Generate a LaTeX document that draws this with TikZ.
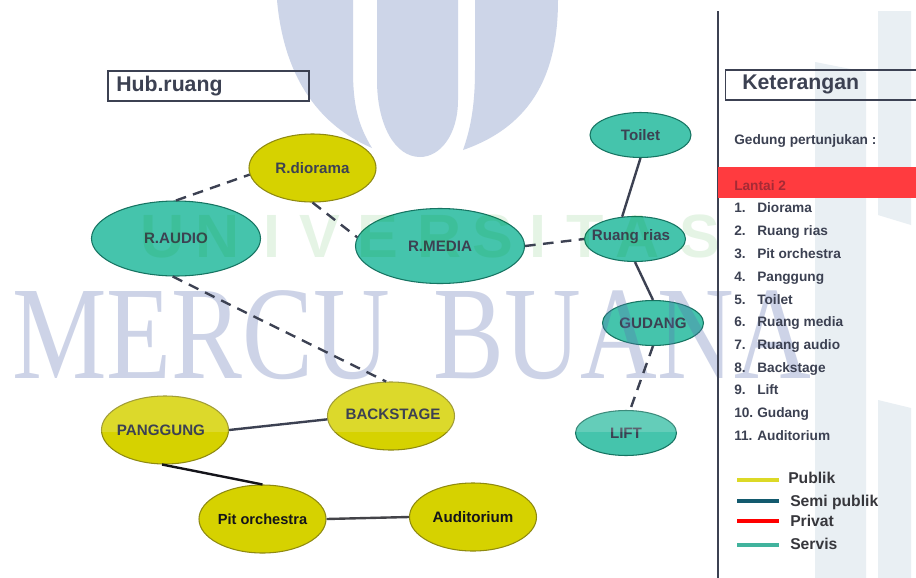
\documentclass[tikz,border=0pt]{standalone}
\usepackage{fontspec}
\setmainfont{Liberation Sans}
\newfontfamily\wmfont{Liberation Serif}
\usetikzlibrary{shapes.geometric}
\definecolor{wmblue}{HTML}{CDD5E8}
\definecolor{wmgray}{HTML}{E9EFF3}
\definecolor{wmink}{HTML}{5A6FB0}
\definecolor{teal1}{HTML}{45C4AC}
\definecolor{teal2}{HTML}{1FA68C}
\definecolor{semi}{HTML}{135A6E}
\definecolor{yell1}{HTML}{D6D200}
\definecolor{yell2}{HTML}{8F8A10}
\definecolor{inkd}{HTML}{3C4152}
\definecolor{inkk}{HTML}{14141A}
\definecolor{redband}{HTML}{FF3B3F}
\definecolor{lantaiink}{HTML}{A52A35}
\tikzset{
  room/.style={ellipse,draw,line width=.8pt,inner sep=0pt,font=\bfseries\fontsize{11.4}{13}\selectfont,text=inkd},
  servis/.style={room,fill=teal1,draw=teal2!70!black},
  publik/.style={room,fill=yell1,draw=yell2},
  wide/.style={minimum width=127bp*0.75,minimum height=68bp*0.75},
  big/.style={minimum width=169bp*0.75,minimum height=75bp*0.75},
  small/.style={minimum width=101bp*0.75,minimum height=45bp*0.75},
  conn/.style={draw=inkd,line width=1.8pt},
  dashconn/.style={conn,dashed,dash pattern=on 8bp off 5.5bp},
  titlebox/.style={draw=inkd,line width=1pt,fill=none},
  titletext/.style={anchor=base west,inner sep=0pt,text=inkd,font=\bfseries},
  item/.style={anchor=base west,inner sep=0pt,text=inkd,font=\bfseries\fontsize{10.3}{12}\selectfont},
  legendline/.style={line width=2.6pt},
  legendtext/.style={anchor=base west,inner sep=0pt,text=inkk!85,font=\bfseries\fontsize{11.8}{14}\selectfont},
  wmletter/.style={anchor=base west,inner sep=0pt,transform shape,xscale=.8,text=wmink,text opacity=.30,font=\wmfont\fontsize{100}{100}\selectfont},
  greenletter/.style={anchor=base,inner sep=0pt,text=green!60!black,text opacity=.10,font=\bfseries\fontsize{46}{46}\selectfont}
}
\begin{document}
\begin{tikzpicture}[x=.75bp,y=-.75bp]
\useasboundingbox (0,0) rectangle (916,578);
\fill[white] (0,0) rectangle (916,578);
% U logo watermark
\fill[wmblue] (277,0) -- (353,0) -- (353,70) .. controls (353,105) and (358,125) .. (372,148)
  .. controls (330,130) and (285,90) .. (277,0) -- cycle;
\fill[wmblue] (377,0) -- (458,0) -- (458,100) .. controls (458,135) and (440,157) .. (420,157)
  .. controls (395,157) and (377,125) .. (377,80) -- cycle;
\fill[wmblue] (475,0) -- (558,0) .. controls (558,70) and (535,125) .. (463,150)
  .. controls (472,125) and (475,100) .. (475,70) -- cycle;
% building watermark, right side
\fill[wmgray] (815,62) -- (866,72) -- (866,578) -- (815,578) -- cycle;
\fill[wmgray] (878,11) -- (911,11) -- (911,225) -- (878,215) -- cycle;
\fill[wmgray] (878,400) -- (911,408) -- (911,578) -- (878,578) -- cycle;
% rooms
\node[publik,wide] (diorama) at (312.5,168) {R.diorama};
\node[servis,big] (audio) at (176,238.5) {R.AUDIO};
\node[servis,big] (media) at (440,246) {R.MEDIA};
\node[servis,small] (toilet) at (640.5,135) {Toilet};
\node[servis,small] (rias) at (635,239) {};
\node[servis,small] (gudang) at (653,323) {GUDANG};
\node[servis,small] (lift) at (626,433) {LIFT};
\node[publik,wide] (backstage) at (391,416) {};
\node[publik,wide] (panggung) at (165,430) {};
\node[publik,wide,text=inkk,font=\bfseries\fontsize{11}{13}\selectfont] (pit) at (262.5,519) {Pit orchestra};
\node[publik,wide,text=inkk] (audit) at (473,517) {Auditorium};
% lightened band of the watermark across the rooms
\fill[white,opacity=.17] (90,380) rectangle (700,432);
\node[room,draw=none,text=inkd] (backstagelabel) at (393,414) {BACKSTAGE};
\node[room,draw=none,text=inkd] (pangguglabel) at (161,430) {PANGGUNG};
\node[room,draw=none,text=inkd] (riaslabel) at (631,237) {Ruang rias};
% watermark lettering
\node[wmletter] (wmA) at (12,378) {MERCU};
\node[wmletter] (wmB) at (433,378) {BUANA};
\foreach \c/\x/\n in {U/163/a,N/218/b,I/272/c,V/320/d,E/378/e,R/440/f,S/493/g,I/538/h,T/585/i,A/638/j,S/700/k}{
  \node[greenletter] (uni\n) at (\x,257) {\c};
}
% connectors
\draw[dashconn] (audio.north) -- (diorama.186);
\draw[dashconn] (diorama.south) -- (media.174);
\draw[dashconn] (audio.265) -- (backstage.98);
\draw[dashconn] (media.east) -- (rias.west);
\draw[dashconn] (gudang.south) -- (lift.80);
\draw[conn] (toilet.south) -- (rias.120);
\draw[conn] (rias.south) -- (gudang.north);
\draw[conn] (panggung.east) -- (backstage.183);
\draw[conn,draw=inkk] (panggung.265) -- (pit.north);
\draw[conn,draw=inkk!80] (pit.east) -- (audit.west);
% titles
\draw[titlebox] (108,71) rectangle (309,101);
\node[titletext,font=\bfseries\fontsize{16}{18}\selectfont] (hub) at (116,91) {Hub.ruang};
\draw[inkd,line width=.9pt] (718,11) -- (718,578);
\fill[redband] (718,167) rectangle (916,198);
\draw[titlebox] (916,70) -- (725.5,70) -- (725.5,100) -- (916,100);
\node[titletext,font=\bfseries\fontsize{16}{18}\selectfont] (ket) at (742,89) {Keterangan};
\node[item] (gedung) at (734,144) {Gedung pertunjukan :};
\node[item,text=lantaiink] (lantai) at (734,190) {Lantai 2};
\foreach \t/\y/\n/\k in {Diorama/212/1./a,Ruang rias/235/2./b,Pit orchestra/258/3./c,Panggung/281/4./d,Toilet/304/5./e,Ruang media/326/6./f,Ruang audio/349/7./g,Backstage/372/8./h,Lift/394/9./i,Gudang/417/10./j,Auditorium/440/11./k}{
  \node[item] (num\k) at (734,\y) {\n};
  \node[item] (txt\k) at (757,\y) {\t};
}
% legend
\coordinate (la) at (737,480); \coordinate (lb) at (779,480);
\coordinate (sa) at (737,501); \coordinate (sb) at (779,501);
\coordinate (pa) at (737,521); \coordinate (pb) at (779,521);
\coordinate (va) at (737,545); \coordinate (vb) at (779,545);
\draw[legendline,draw=yell1!85!white] (la) -- (lb);
\draw[legendline,draw=semi] (sa) -- (sb);
\draw[legendline,draw=red] (pa) -- (pb);
\draw[legendline,draw=teal2!85!white] (va) -- (vb);
\node[legendtext] (lpub) at (788,483) {Publik};
\node[legendtext] (lsem) at (790,506) {Semi publik};
\node[legendtext] (lpri) at (790,526) {Privat};
\node[legendtext] (lser) at (790,549) {Servis};
\end{tikzpicture}
\end{document}
